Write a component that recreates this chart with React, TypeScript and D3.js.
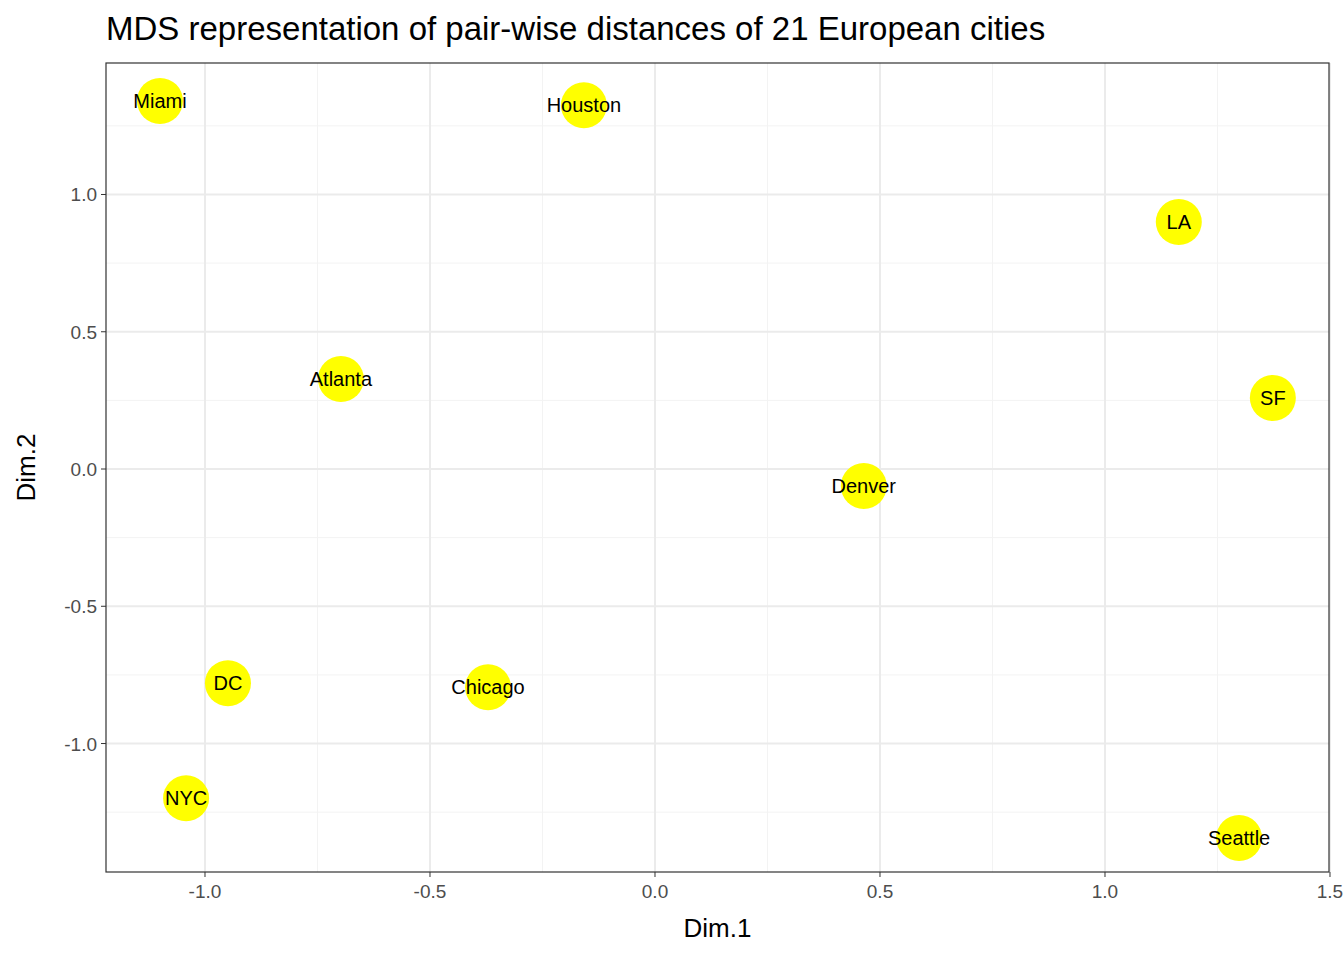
import React from "react";
import * as d3 from "d3";

const cities = ["Miami","Houston","LA","SF","Atlanta","Denver","DC","Chicago","NYC","Seattle"];
const dim1 = [-1.10,-0.158,1.164,1.373,-0.698,0.464,-0.949,-0.371,-1.042,1.298];
const dim2 = [1.341,1.325,0.90,0.259,0.328,-0.062,-0.78,-0.795,-1.199,-1.344];
const xTicks = [-1.0,-0.5,0.0,0.5,1.0,1.5];
const yTicks = [-1.0,-0.5,0.0,0.5,1.0];
const xMinor = [-0.75,-0.25,0.25,0.75,1.25];
const yMinor = [-1.25,-0.75,-0.25,0.25,0.75,1.25];

export default function App() {
  const W = 1344, H = 960;
  const L = 106, R = 1329, T = 63, B = 872;
  const x = d3.scaleLinear().domain([-1.22, 1.4978]).range([L, R]);
  const y = d3.scaleLinear().domain([-1.468, 1.479]).range([B, T]);
  const font = "Liberation Sans, Arial, sans-serif";
  return (
    <svg width={W} height={H} style={{ position: "absolute", left: 0, top: 0 }} fontFamily={font}>
      <rect width={W} height={H} fill="#fff" />
      {xMinor.map(v => <line key={"xm"+v} x1={x(v)} x2={x(v)} y1={T} y2={B} stroke="#f3f3f3" strokeWidth={1} />)}
      {yMinor.map(v => <line key={"ym"+v} y1={y(v)} y2={y(v)} x1={L} x2={R} stroke="#f3f3f3" strokeWidth={1} />)}
      {xTicks.map(v => <line key={"x"+v} x1={x(v)} x2={x(v)} y1={T} y2={B} stroke="#ebebeb" strokeWidth={2} />)}
      {yTicks.map(v => <line key={"y"+v} y1={y(v)} y2={y(v)} x1={L} x2={R} stroke="#ebebeb" strokeWidth={2} />)}
      {cities.map((c, i) => (
        <g key={c}>
          <circle cx={x(dim1[i])} cy={y(dim2[i])} r={23} fill="#ffff00" />
          <text x={x(dim1[i])} y={y(dim2[i]) + 7} textAnchor="middle" fontSize={20} fill="#000">{c}</text>
        </g>
      ))}
      <rect x={L} y={T} width={R - L} height={B - T} fill="none" stroke="#333" strokeWidth={1.2} />
      {xTicks.map(v => (
        <g key={"xt"+v}>
          <line x1={x(v)} x2={x(v)} y1={B} y2={B + 5} stroke="#333" />
          <text x={x(v)} y={B + 26} textAnchor="middle" fontSize={19} fill="#4d4d4d">{v.toFixed(1)}</text>
        </g>
      ))}
      {yTicks.map(v => (
        <g key={"yt"+v}>
          <line x1={L - 5} x2={L} y1={y(v)} y2={y(v)} stroke="#333" />
          <text x={L - 9} y={y(v) + 7} textAnchor="end" fontSize={19} fill="#4d4d4d">{v.toFixed(1)}</text>
        </g>
      ))}
      <text x={(L + R) / 2} y={937} textAnchor="middle" fontSize={26} fill="#000">Dim.1</text>
      <text transform={`translate(35,${(T + B) / 2}) rotate(-90)`} textAnchor="middle" fontSize={26} fill="#000">Dim.2</text>
      <text x={106} y={40} fontSize={33} fill="#000">MDS representation of pair-wise distances of 21 European cities</text>
    </svg>
  );
}
